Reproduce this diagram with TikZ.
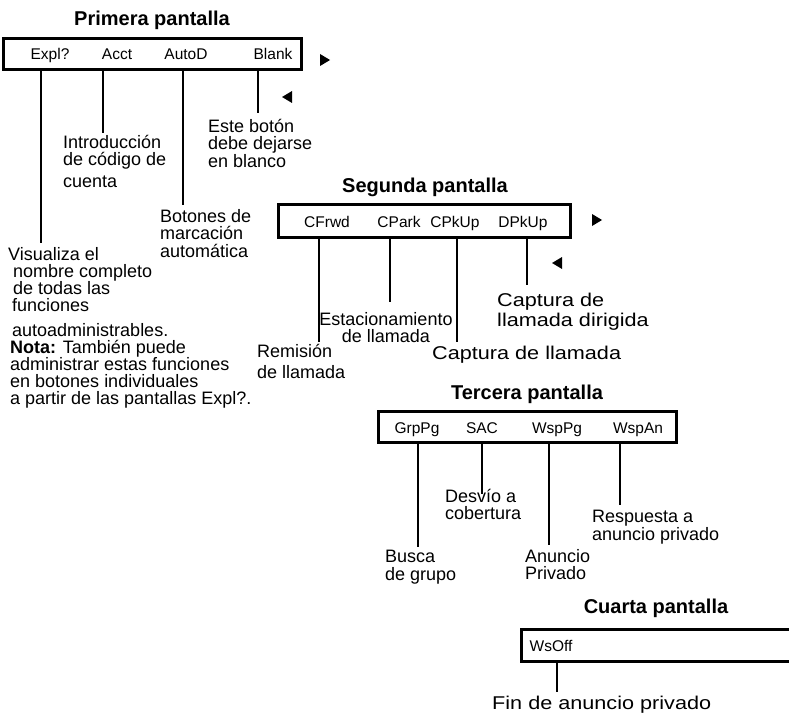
\documentclass[tikz,border=0pt]{standalone}
\usepackage{fontspec}
\setmainfont{Liberation Sans}
\newfontfamily\widesans{Liberation Sans}[FakeStretch=1.17]
\usetikzlibrary{positioning}

\begin{document}
\begin{tikzpicture}[
    x=1pt, y=-1pt,
    title/.style={font=\fontsize{20}{22}\selectfont\bfseries, inner sep=0pt},
    screen/.style={draw, line width=2.8pt, inner sep=0pt},
    btn/.style={anchor=base, font=\fontsize{15.5}{17}\selectfont, inner sep=0pt},
    desc/.style={anchor=north west, align=left, inner sep=0pt, font=\fontsize{18}{17.5}\selectfont},
    big/.style={font=\widesans\fontsize{18.5}{20}\selectfont},
    lead/.style={line width=1.8pt},
    pgtri/.style={fill=black}
]
\useasboundingbox (0,0) rectangle (789,714);

% Primera pantalla
\node[title] (t1) at (152,20) {Primera pantalla};
\node[screen, minimum width=298pt, minimum height=31pt] (box1) at (152.5,54) {};
\node[btn] (expl) at (50,60) {Expl?};
\node[btn] (acct) at (117,60) {Acct};
\node[btn] (autod) at (186,60) {AutoD};
\node[btn] (blank) at (273,60) {Blank};
\coordinate (nx1) at (325,60);
\coordinate (pv1) at (287,97);
\fill[pgtri] (nx1) ++(-5,-6) -- ++(10,6) -- ++(-10,6) -- cycle;
\fill[pgtri] (pv1) ++(5,-6) -- ++(-10,6) -- ++(10,6) -- cycle;

\node[desc, font=\fontsize{18}{17}\selectfont] (visual) at (8,247) {Visualiza el\\
  \hspace*{5pt}nombre completo\\
  \hspace*{5pt}de todas las\\
  \hspace*{4pt}funciones\\[8pt]
  \hspace*{4pt}autoadministrables.\\
  \hspace*{2pt}\textbf{Nota:} También puede\\
  \hspace*{2pt}administrar estas funciones\\
  \hspace*{2pt}en botones individuales\\
  \hspace*{2pt}a partir de las pantallas Expl?.};
\node[desc] (intro) at (63,135) {Introducción\\de código de\\[4pt]cuenta};
\node[desc] (botones) at (160,209) {Botones de\\marcación\\automática};
\node[desc] (blanco) at (208,119) {Este botón\\debe dejarse\\en blanco};

\coordinate (e-expl) at (41,243);
\coordinate (e-acct) at (103,133);
\coordinate (e-autod) at (183,205);
\coordinate (e-blank) at (258,113);
\draw[lead] (box1.south -| e-expl) -- (e-expl);
\draw[lead] (box1.south -| e-acct) -- (e-acct);
\draw[lead] (box1.south -| e-autod) -- (e-autod);
\draw[lead] (box1.south -| e-blank) -- (e-blank);

% Segunda pantalla
\node[title] (t2) at (425,187) {Segunda pantalla};
\node[screen, minimum width=292pt, minimum height=33pt] (box2) at (424.5,221) {};
\node[btn] (cfrwd) at (327,227) {CFrwd};
\node[btn] (cpark) at (399,227) {CPark};
\node[btn] (cpkup) at (455,227) {CPkUp};
\node[btn] (dpkup) at (523,227) {DPkUp};
\coordinate (nx2) at (597,220);
\coordinate (pv2) at (557,263);
\fill[pgtri] (nx2) ++(-5,-6) -- ++(10,6) -- ++(-10,6) -- cycle;
\fill[pgtri] (pv2) ++(5,-6) -- ++(-10,6) -- ++(10,6) -- cycle;

\node[desc, anchor=north, align=center] (estac) at (386,312) {Estacionamiento\\de llamada};
\node[desc] (remision) at (257,344) {Remisión\\[4pt]de llamada};
\node[desc, big] (captura) at (432,346) {Captura de llamada};
\node[desc, big] (dirigida) at (497,293) {Captura de\\llamada dirigida};

\coordinate (e-cfrwd) at (319,342);
\coordinate (e-cpark) at (390,302);
\coordinate (e-cpkup) at (457,342);
\coordinate (e-dpkup) at (527,285);
\draw[lead] (box2.south -| e-cfrwd) -- (e-cfrwd);
\draw[lead] (box2.south -| e-cpark) -- (e-cpark);
\draw[lead] (box2.south -| e-cpkup) -- (e-cpkup);
\draw[lead] (box2.south -| e-dpkup) -- (e-dpkup);

% Tercera pantalla
\node[title] (t3) at (527,394) {Tercera pantalla};
\node[screen, minimum width=298pt, minimum height=31pt] (box3) at (527.5,427) {};
\node[btn] (grppg) at (417,433) {GrpPg};
\node[btn] (sac) at (482,433) {SAC};
\node[btn] (wsppg) at (557,433) {WspPg};
\node[btn] (wspan) at (638,433) {WspAn};

\node[desc] (desvio) at (445,489) {Desvío a\\cobertura};
\node[desc] (respuesta) at (592,510) {Respuesta a\\anuncio privado};
\node[desc] (busca) at (385,550) {Busca\\de grupo};
\node[desc] (anuncio) at (525,549) {Anuncio\\Privado};

\coordinate (e-grppg) at (418,547);
\coordinate (e-sac) at (482,494);
\coordinate (e-wsppg) at (549,545);
\coordinate (e-wspan) at (620,505);
\draw[lead] (box3.south -| e-grppg) -- (e-grppg);
\draw[lead] (box3.south -| e-sac) -- (e-sac);
\draw[lead] (box3.south -| e-wsppg) -- (e-wsppg);
\draw[lead] (box3.south -| e-wspan) -- (e-wspan);

% Cuarta pantalla
\node[title] (t4) at (656,608) {Cuarta pantalla};
\node[screen, minimum width=300pt, minimum height=32pt] (box4) at (671.4,645.5) {};
\node[btn] (wsoff) at (551,651) {WsOff};
\node[desc, big] (fin) at (492,696) {Fin de anuncio privado};
\coordinate (e-wsoff) at (557,692);
\draw[lead] (box4.south -| e-wsoff) -- (e-wsoff);
\end{tikzpicture}
\end{document}
